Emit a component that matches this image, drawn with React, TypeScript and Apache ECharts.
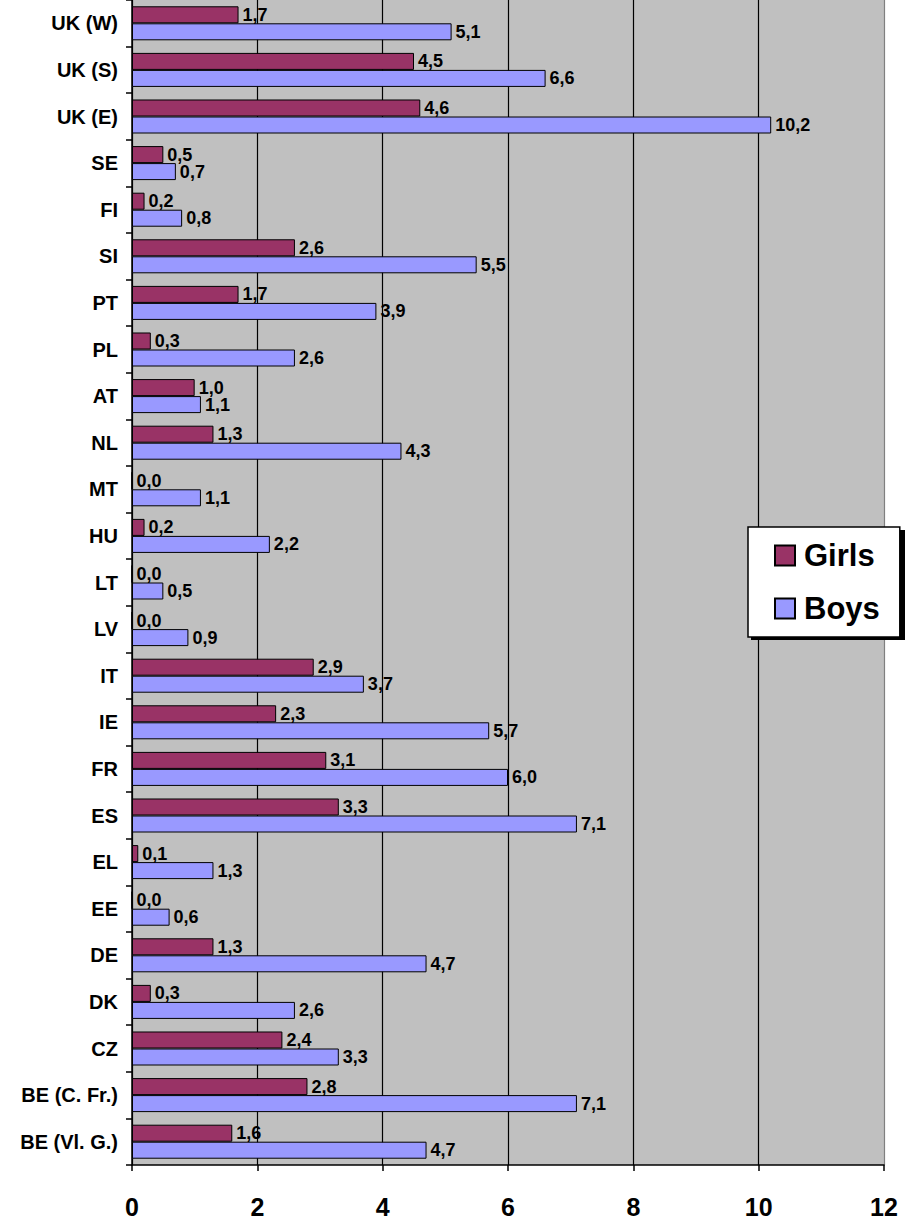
import React, { useEffect, useRef } from "react";
import * as echarts from "echarts";

const categories = [
  "BE (Vl. G.)", "BE (C. Fr.)", "CZ", "DK", "DE", "EE", "EL", "ES", "FR", "IE",
  "IT", "LV", "LT", "HU", "MT", "NL", "AT", "PL", "PT", "SI", "FI", "SE",
  "UK (E)", "UK (S)", "UK (W)",
];
const girls = [1.6, 2.8, 2.4, 0.3, 1.3, 0.0, 0.1, 3.3, 3.1, 2.3, 2.9, 0.0, 0.0, 0.2, 0.0, 1.3, 1.0, 0.3, 1.7, 2.6, 0.2, 0.5, 4.6, 4.5, 1.7];
const boys = [4.7, 7.1, 3.3, 2.6, 4.7, 0.6, 1.3, 7.1, 6.0, 5.7, 3.7, 0.9, 0.5, 2.2, 1.1, 4.3, 1.1, 2.6, 3.9, 5.5, 0.8, 0.7, 10.2, 6.6, 5.1];
const xTicks = { min: 0, max: 12, interval: 2 };

const FONT = "'Liberation Sans', Arial, sans-serif";

export default function App() {
  const ref = useRef<HTMLDivElement>(null);
  useEffect(() => {
    if (!ref.current) return;
    const chart = echarts.init(ref.current, undefined, { renderer: "svg" });
    const label = {
      show: true,
      position: "right" as const,
      distance: 4,
      color: "#000",
      fontWeight: "bold" as const,
      fontSize: 18,
      fontFamily: FONT,
      formatter: (p: any) => Number(p.value).toFixed(1).replace(".", ","),
    };
    chart.setOption({
      animation: false,
      backgroundColor: "#fff",
      textStyle: { fontFamily: FONT },
      grid: {
        left: 132,
        right: 21,
        top: 0,
        bottom: 57,
        show: true,
        backgroundColor: "#C0C0C0",
        borderWidth: 0,
      },
      legend: {
        data: ["Girls", "Boys"],
        orient: "vertical",
        left: 748,
        top: 527,
        padding: [13, 20, 13, 26],
        itemWidth: 20,
        itemHeight: 20,
        itemGap: 22,
        icon: "rect",
        backgroundColor: "#fff",
        borderColor: "#000",
        borderWidth: 1.5,
        borderRadius: 0,
        z: 10,
        textStyle: {
          fontSize: 31,
          fontWeight: "bold",
          color: "#000",
          fontFamily: FONT,
          padding: [0, 0, 0, 4],
        },
      },
      graphic: [
        {
          type: "rect",
          z: 9,
          shape: { x: 751, y: 530, width: 154, height: 110 },
          style: { fill: "#000" },
        },
      ],
      xAxis: {
        type: "value",
        min: xTicks.min,
        max: xTicks.max,
        interval: xTicks.interval,
        axisLine: { show: true, lineStyle: { color: "#000", width: 1.5 } },
        axisTick: { show: true, length: 6, lineStyle: { color: "#000", width: 1.5 } },
        axisLabel: {
          color: "#000",
          fontSize: 25,
          fontWeight: "bold",
          fontFamily: FONT,
          margin: 29,
        },
        splitLine: {
          show: true,
          lineStyle: { color: ["#000", "#000", "#000", "#000", "#000", "#000", "#808080"], width: 1.2 },
        },
      },
      yAxis: {
        type: "category",
        data: categories,
        axisLine: { show: true, lineStyle: { color: "#000", width: 1.5 } },
        axisTick: { show: true, length: 6, lineStyle: { color: "#000", width: 1.5 } },
        axisLabel: {
          color: "#000",
          fontSize: 20,
          fontWeight: "bold",
          fontFamily: FONT,
          margin: 14,
          interval: 0,
        },
      },
      series: [
        {
          name: "Girls",
          type: "bar",
          data: girls,
          barGap: "0%",
          barCategoryGap: "27%",
          itemStyle: { color: "#993366", borderColor: "#000", borderWidth: 1 },
          label,
        },
        {
          name: "Boys",
          type: "bar",
          data: boys,
          barGap: "0%",
          barCategoryGap: "27%",
          itemStyle: { color: "#9999FF", borderColor: "#000", borderWidth: 1 },
          label,
        },
      ],
    });
    return () => chart.dispose();
  }, []);
  return (
    <div
      ref={ref}
      style={{ position: "fixed", left: 0, top: 0, width: 905, height: 1222 }}
    />
  );
}
